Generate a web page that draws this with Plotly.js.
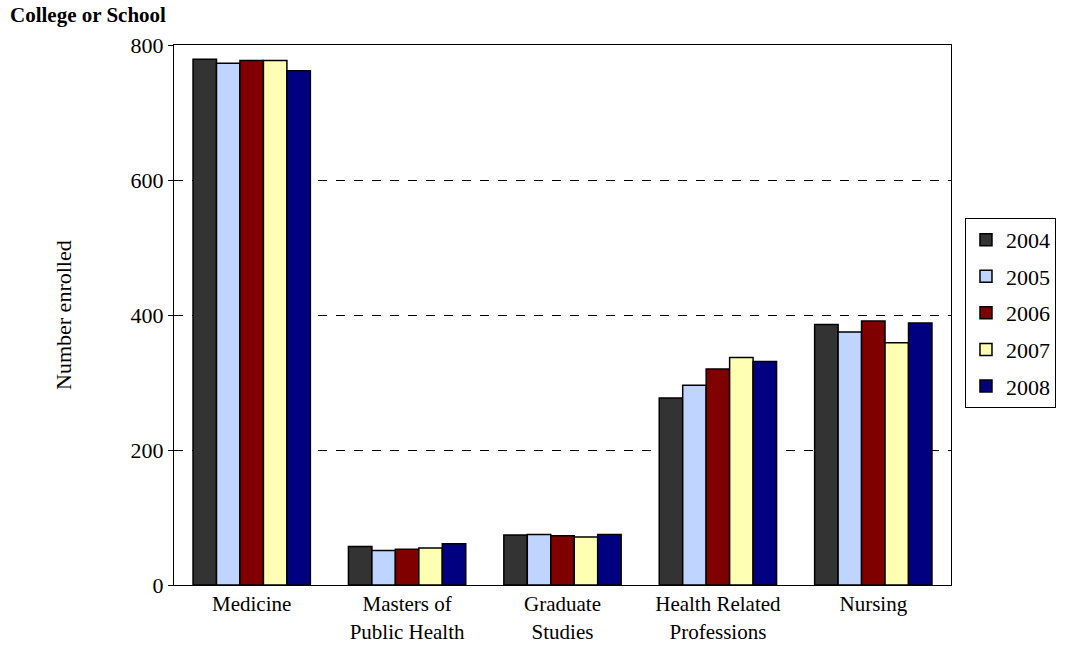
<!DOCTYPE html>
<html>
<head>
<meta charset="utf-8">
<script src="https://cdn.plot.ly/plotly-3.0.1.min.js"></script>
<style>html,body{margin:0;padding:0;background:#fff;}#chart{width:1070px;height:646px;}</style>
</head>
<body>
<div id="chart"></div>
<script>
const categories = ["Medicine", "Masters of<br>Public Health", "Graduate<br>Studies", "Health Related<br>Professions", "Nursing"];
const years = ["2004", "2005", "2006", "2007", "2008"];
const v2004 = [779, 57, 74, 277, 386];
const v2005 = [773, 51, 75, 296, 375];
const v2006 = [777, 53, 73, 320, 391];
const v2007 = [777, 55, 71, 337, 359];
const v2008 = [762, 61, 75, 331, 388];
const yTicks = [0, 200, 400, 600, 800];

const series = [v2004, v2005, v2006, v2007, v2008];
const colors = ["#333333", "#bfd5ff", "#800000", "#ffffb3", "#000080"];

const traces = series.map((vals, i) => ({
  type: "bar",
  name: years[i],
  legendgroup: "g" + i,
  x: categories,
  y: vals,
  marker: {color: colors[i], line: {color: "#000", width: 1.5}},
  hoverinfo: "none"
}));

const FAM = "Times New Roman, Liberation Serif, serif";
const f = (size) => ({family: FAM, size: size, color: "#000"});

const layout = {
  width: 1070, height: 646,
  margin: {l: 174, r: 119, t: 45, b: 61},
  paper_bgcolor: "#fff", plot_bgcolor: "#fff",
  barmode: "group", bargap: 0.245, bargroupgap: 0,
  font: f(21),
  showlegend: true,
  legend: {
    x: 1.018, xanchor: "left", y: 0.504, yanchor: "middle",
    bordercolor: "#000", borderwidth: 1, bgcolor: "#fff",
    font: f(22),
    tracegroupgap: 5, itemwidth: 30
  },
  annotations: [{
    text: "<b>College or School</b>", xref: "paper", yref: "paper",
    x: -0.2136, y: 1.056, xanchor: "left", yanchor: "middle", showarrow: false,
    font: f(21)
  }, {
    text: "Number enrolled", xref: "paper", yref: "paper",
    x: -0.1429, y: 0.5, xanchor: "center", yanchor: "middle", showarrow: false,
    textangle: -90, font: f(22)
  }],
  xaxis: {
    showline: true, linecolor: "#000", linewidth: 1, mirror: true,
    ticks: "", tickfont: f(21),
    showgrid: false, automargin: false
  },
  yaxis: {
    range: [0, 800], tickvals: yTicks, ticktext: yTicks.map(String),
    showline: true, linecolor: "#000", linewidth: 1, mirror: true,
    ticks: "outside", ticklen: 5, tickcolor: "#000",
    showgrid: true, gridcolor: "#000", griddash: "dash", gridwidth: 1,
    zeroline: false, tickfont: f(22),
    automargin: false
  }
};

Plotly.newPlot("chart", traces, layout, {displayModeBar: false, staticPlot: true});
</script>
</body>
</html>
